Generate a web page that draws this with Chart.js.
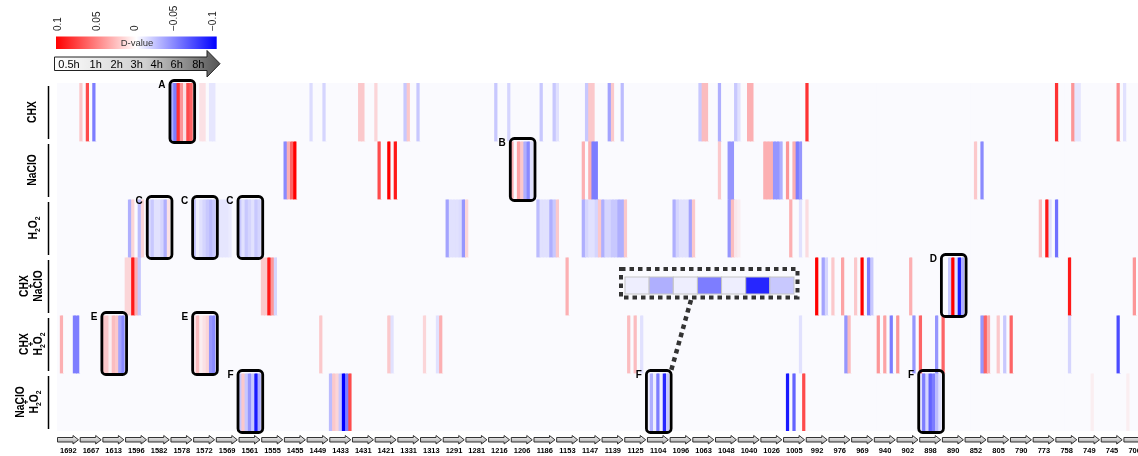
<!DOCTYPE html>
<html>
<head>
<meta charset="utf-8">
<script src="https://cdn.jsdelivr.net/npm/chart.js@4.4.1/dist/chart.umd.min.js"></script>
<style>
  html, body { margin: 0; padding: 0; background: #fff; overflow: hidden; }
  #wrap { position: relative; width: 1150px; height: 456px; }
</style>
</head>
<body>
<div id="wrap"><canvas id="heatChart"></canvas></div>
<script>
// bands (cm-1) on the x axis, 7 sampling times inside each band
const wavenumbers = ['1692', '1667', '1613', '1596', '1582', '1578', '1572', '1569', '1561', '1555',
  '1455', '1449', '1433', '1431', '1421', '1331', '1313', '1291', '1281', '1216', '1206', '1186',
  '1153', '1147', '1139', '1125', '1104', '1096', '1063', '1048', '1040', '1026', '1005', '992',
  '976', '969', '940', '902', '898', '890', '852', '805', '790', '773', '758', '749', '745', '706'];
const times = ['0.5h', '1h', '2h', '3h', '4h', '6h', '8h'];
const treatments = ['CHX', 'NaClO', 'H2O2', 'CHX+NaClO', 'CHX+H2O2', 'NaClO+H2O2'];
const legendTicks = [0.1, 0.05, 0, -0.05, -0.1];

// D-values: [band, values 0.5h..8h], bands not listed are 0
const chx = [
  ['1667', [0.02, 0, 0.07, 0, -0.05, 0, 0]],
  ['1578', [-0.03, -0.05, 0.08, 0.04, 0.01, 0.07, 0.06]],
  ['1572', [0, 0, 0.01, 0.01, 0, -0.008, -0.008]],
  ['1449', [0, -0.012, 0, 0, 0, -0.015, 0]],
  ['1431', [0, 0, 0.02, 0.02, 0, 0, 0]],
  ['1421', [0.015, 0, 0, 0, 0, 0, 0]],
  ['1331', [0, 0, -0.02, 0.02, 0, 0, -0.02]],
  ['1216', [0, 0, -0.02, 0, 0, 0, -0.015]],
  ['1186', [0, 0, -0.02, 0, 0, 0, -0.02]],
  ['1153', [-0.01, 0, 0, 0, 0, 0, 0]],
  ['1147', [0, 0, -0.02, 0.02, 0.02, 0, 0]],
  ['1139', [0, 0, -0.035, 0.02, 0, 0, -0.025]],
  ['1063', [0, 0, -0.02, 0.025, 0.025, 0, 0]],
  ['1048', [0, -0.03, 0, 0, 0, 0, -0.02]],
  ['1040', [-0.01, 0, 0, 0.03, 0.03, 0, 0]],
  ['992', [0.08, 0, 0, 0, 0, 0, 0]],
  ['758', [0.08, 0, 0, 0, 0, 0.04, -0.008]],
  ['749', [-0.008, 0, 0, 0, 0, 0, 0]],
  ['745', [0, 0, 0, 0, 0, 0.045, 0]],
  ['706', [-0.01, 0, 0, 0, 0, 0, 0]]
];
const naclo = [
  ['1455', [-0.045, 0.03, 0.06, 0.1, 0, 0, 0]],
  ['1421', [0, 0.07, 0, 0, 0.1, 0, 0.09]],
  ['1206', [0.03, 0, 0.035, 0.02, -0.03, -0.045, -0.01]],
  ['1147', [0, 0.03, 0, 0.03, -0.05, -0.05, 0]],
  ['1048', [0, 0.02, 0, 0, -0.04, -0.04, 0]],
  ['1026', [0, 0.03, 0.03, 0.03, -0.04, -0.04, -0.03]],
  ['1005', [0, 0.04, 0, 0.03, -0.05, -0.04, 0]],
  ['852', [0, 0, 0, 0.02, 0, -0.045, 0]]
];
const h2o2 = [
  ['1596', [0, -0.03, 0.015, 0, -0.025, 0.015, 0]],
  ['1582', [-0.012, -0.02, -0.01, -0.01, -0.015, -0.03, 0.01]],
  ['1572', [-0.02, -0.005, -0.01, -0.015, -0.02, -0.025, -0.02]],
  ['1569', [-0.008, -0.008, -0.008, -0.008, -0.006, 0, 0]],
  ['1561', [-0.02, -0.01, -0.02, -0.015, -0.01, -0.02, -0.015]],
  ['1291', [0, -0.035, -0.01, -0.01, -0.01, -0.012, -0.04]],
  ['1281', [0.015, 0, 0, 0, 0, 0, 0]],
  ['1186', [0, -0.025, -0.01, -0.01, -0.01, -0.03, -0.02]],
  ['1153', [0.02, 0, 0, 0, 0, 0, 0]],
  ['1147', [0, -0.03, -0.015, -0.01, -0.01, -0.015, 0.02]],
  ['1139', [-0.03, -0.015, -0.015, -0.02, -0.02, -0.03, -0.03]],
  ['1125', [0.02, 0, 0, 0, 0, 0, 0]],
  ['1096', [0, -0.03, -0.015, -0.01, -0.01, -0.01, -0.035]],
  ['1063', [0.02, 0, 0, 0, 0, 0, 0]],
  ['1048', [0, 0, 0, 0, -0.04, 0.025, 0.008]],
  ['1040', [0.005, 0, 0, 0, 0, 0, 0]],
  ['1005', [0, 0, 0.03, 0, 0, -0.01, 0]],
  ['992', [0.012, 0, 0, 0, 0, 0, 0]],
  ['773', [0, 0, 0.025, 0, 0.09, -0.01, 0]],
  ['758', [-0.055, 0, 0, 0, 0, 0, 0]]
];
const chxNaclo = [
  ['1596', [0.015, 0.015, 0.09, 0.03, -0.02, 0, 0]],
  ['1555', [0.02, 0.02, 0.09, 0.04, -0.015, 0, 0]],
  ['1153', [0, 0, 0, 0.03, 0, 0, 0]],
  ['992', [0, 0, 0, 0.1, 0, -0.035, -0.015]],
  ['976', [0, 0.02, 0, 0, 0.035, 0, 0]],
  ['969', [0, 0.02, 0, 0.1, 0, -0.05, -0.02]],
  ['902', [0, 0, 0, 0, 0.03, 0, 0]],
  ['890', [0, 0, -0.02, 0.1, -0.01, -0.09, -0.03]],
  ['758', [0, 0, 0, 0, 0.09, 0, 0]],
  ['706', [0, 0, 0, 0.04, 0, 0, 0]]
];
const chxH2o2 = [
  ['1692', [0, 0.03, 0, 0, 0, -0.05, -0.05]],
  ['1613', [0.02, 0.02, 0.005, 0.025, 0.02, -0.035, -0.045]],
  ['1572', [0.01, 0.025, 0.005, 0.01, 0.015, -0.04, -0.045]],
  ['1449', [0, 0, 0, 0, 0.02, 0, 0]],
  ['1421', [0, 0, 0, 0, 0.02, -0.01, 0]],
  ['1313', [0, 0.015, 0, 0, 0, -0.01, 0.03]],
  ['1125', [0, 0.025, 0, 0.025, 0, -0.01, 0]],
  ['1005', [0, 0, 0, 0, 0, -0.01, 0]],
  ['976', [0, 0, 0, 0, 0, -0.04, 0.025]],
  ['940', [0, 0.04, 0, 0.035, 0, -0.05, 0]],
  ['902', [0.04, 0, 0, 0, 0, -0.04, 0]],
  ['898', [0.06, 0, 0, 0, 0, -0.04, 0]],
  ['890', [0.06, 0, 0, 0, 0, 0, 0]],
  ['852', [0, 0, 0, 0, 0, -0.04, 0.06]],
  ['805', [0.03, 0, 0, 0.02, 0, -0.02, 0]],
  ['790', [0.06, 0, 0, 0, 0, 0, 0]],
  ['758', [0, 0, 0, 0, -0.015, 0, 0]],
  ['745', [0, 0, 0, 0, 0, -0.07, 0]]
];
const nacloH2o2 = [
  ['1561', [-0.02, 0.02, -0.02, -0.04, -0.02, -0.09, -0.03]],
  ['1433', [-0.025, 0.02, 0.015, -0.02, -0.1, -0.05, 0.07]],
  ['1104', [-0.005, -0.03, -0.005, -0.05, -0.005, -0.085, -0.02]],
  ['1005', [0, -0.09, 0, -0.06, 0, 0, 0.07]],
  ['898', [-0.01, -0.05, -0.015, -0.06, -0.05, -0.025, -0.01]],
  ['749', [0, 0, 0, 0, 0.005, 0, 0]],
  ['706', [0, 0.005, 0, 0, 0, 0, 0]]
];

// highlighted boxes: letter, treatment, band
const boxes = [
  ['A', 'CHX', '1578'], ['B', 'NaClO', '1206'],
  ['C', 'H2O2', '1582'], ['C', 'H2O2', '1572'], ['C', 'H2O2', '1561'],
  ['D', 'CHX+NaClO', '890'], ['E', 'CHX+H2O2', '1613'], ['E', 'CHX+H2O2', '1572'],
  ['F', 'NaClO+H2O2', '1561'], ['F', 'NaClO+H2O2', '1104'], ['F', 'NaClO+H2O2', '898']
];

const FONT = '"Liberation Sans", Arial, sans-serif';
const BASE = [250, 250, 254];

function dColor(v) {
  const t = Math.min(Math.abs(v) / 0.1, 1);
  const end = v > 0 ? [255, 0, 0] : [0, 0, 255];
  const c = BASE.map((b, i) => Math.round(b + (end[i] - b) * t));
  return 'rgb(' + c.join(',') + ')';
}

function expand(list) {
  const vals = new Array(wavenumbers.length * times.length).fill(0);
  list.forEach(([wn, cells]) => {
    const w = wavenumbers.indexOf(wn);
    cells.forEach((v, t) => { vals[w * times.length + t] = v; });
  });
  return vals;
}

const rowValues = [chx, naclo, h2o2, chxNaclo, chxH2o2, nacloH2o2].map(expand);
const cellLabels = wavenumbers.flatMap(w => times.map(t => w + ' ' + t));

// rotated row labels: [parts, baseline x]
const rowLabelLines = [
  [[['CHX'], 36]],
  [[['NaClO'], 36]],
  [[['H', '2', 'O', '2'], 36.5]],
  [[['CHX'], 28.3], [['+'], 34], [['NaClO'], 41.5]],
  [[['CHX'], 28.3], [['+'], 34], [['H', '2', 'O', '2'], 41.8]],
  [[['NaClO'], 23.8], [['+'], 29.3], [['H', '2', 'O', '2'], 38]]
];

function drawLabelLine(ctx, parts, baseX, cy) {
  ctx.save();
  ctx.translate(baseX, cy);
  ctx.rotate(-Math.PI / 2);
  ctx.scale(0.86, 1);
  ctx.fillStyle = '#000';
  ctx.textAlign = 'left';
  ctx.textBaseline = 'alphabetic';
  const fonts = parts.map(p => /^\d$/.test(p) ? 'bold 8px ' + FONT : (p === '+' ? 'bold 9px ' + FONT : 'bold 12px ' + FONT));
  const widths = parts.map((p, i) => { ctx.font = fonts[i]; return ctx.measureText(p).width; });
  let u = -widths.reduce((a, b) => a + b, 0) / 2;
  parts.forEach((p, i) => {
    ctx.font = fonts[i];
    ctx.fillText(p, u, /^\d$/.test(p) ? 3 : 0);
    u += widths[i];
  });
  ctx.restore();
}

const decor = {
  id: 'decor',
  beforeDatasetsDraw(chart) {
    const { ctx, chartArea: a } = chart;
    ctx.save();
    ctx.fillStyle = 'rgb(' + BASE.join(',') + ')';
    ctx.fillRect(a.left, a.top, a.right - a.left, a.bottom - a.top);
    ctx.restore();
  },
  afterDraw(chart) {
    const { ctx } = chart;
    const x = chart.scales.x, y = chart.scales.y;
    const cellW = x.getPixelForValue(1) - x.getPixelForValue(0);
    const colLeft = w => x.getPixelForValue(w * times.length) - cellW / 2;
    const colRight = w => colLeft(w) + cellW * times.length;
    const rowTop = r => y.getPixelForValue(r);
    const rowBot = r => y.getPixelForValue(r + 1);

    ctx.save();

    // boxes + letters
    boxes.forEach(([letter, tr, wn]) => {
      const w = wavenumbers.indexOf(wn), r = treatments.indexOf(tr);
      const l = colLeft(w), rr = colRight(w), t = rowTop(r), b = rowBot(r);
      ctx.lineWidth = 2.8;
      ctx.strokeStyle = '#000';
      ctx.beginPath();
      ctx.roundRect(l - 0.5, t - 2.5, rr - l + 2, b - t + 4, 4);
      ctx.stroke();
      ctx.fillStyle = '#000';
      ctx.font = 'bold 10px ' + FONT;
      ctx.textAlign = 'right';
      ctx.textBaseline = 'alphabetic';
      ctx.fillText(letter, l - 5, t + 4.7);
    });

    // zoomed inset of F at 1104
    const i1104 = wavenumbers.indexOf('1104') * times.length;
    const insetVals = rowValues[5].slice(i1104, i1104 + times.length);
    const ix = 625, iy = 277, iw = 169 / 7, ih = 17;
    insetVals.forEach((v, i) => {
      ctx.fillStyle = dColor(v);
      ctx.fillRect(ix + i * iw, iy, iw, ih);
      ctx.strokeStyle = '#c4c4c4';
      ctx.lineWidth = 1;
      ctx.strokeRect(ix + i * iw, iy, iw, ih);
    });
    ctx.setLineDash([4.5, 4]);
    ctx.strokeStyle = '#333';
    ctx.lineWidth = 4;
    ctx.strokeRect(621, 269, 176.5, 28.5);
    ctx.lineWidth = 4.5;
    ctx.beginPath();
    ctx.moveTo(691, 300);
    ctx.lineTo(671, 371);
    ctx.stroke();
    ctx.setLineDash([]);

    // row labels and separators
    treatments.forEach((tr, r) => {
      const t = rowTop(r), b = rowBot(r), cy = (t + b) / 2;
      ctx.strokeStyle = '#000';
      ctx.lineWidth = 1.5;
      ctx.beginPath();
      ctx.moveTo(48.5, t + 3);
      ctx.lineTo(48.5, b - 2);
      ctx.stroke();
      rowLabelLines[r].forEach(([parts, bx]) => drawLabelLine(ctx, parts, bx, cy));
    });

    // x axis arrows and band labels
    wavenumbers.forEach((wn, w) => {
      const x0 = colLeft(w);
      const g = ctx.createLinearGradient(0, 435.5, 0, 444);
      g.addColorStop(0, '#ffffff');
      g.addColorStop(1, '#9a9a9a');
      ctx.beginPath();
      ctx.moveTo(x0 + 0.5, 437.5);
      ctx.lineTo(x0 + 16, 437.5);
      ctx.lineTo(x0 + 16, 435.5);
      ctx.lineTo(x0 + 21.5, 439.8);
      ctx.lineTo(x0 + 16, 444);
      ctx.lineTo(x0 + 16, 442);
      ctx.lineTo(x0 + 0.5, 442);
      ctx.closePath();
      ctx.fillStyle = g;
      ctx.fill();
      ctx.strokeStyle = '#333';
      ctx.lineWidth = 1;
      ctx.stroke();
      ctx.fillStyle = '#000';
      ctx.font = 'bold 7.5px ' + FONT;
      ctx.textAlign = 'center';
      ctx.textBaseline = 'alphabetic';
      ctx.fillText(wn, x0 + 11.3, 452.5);
    });

    // colour bar legend
    const cb = ctx.createLinearGradient(56, 0, 216.7, 0);
    cb.addColorStop(0, '#ff0000');
    cb.addColorStop(0.5, '#ffffff');
    cb.addColorStop(1, '#0000ff');
    ctx.fillStyle = cb;
    ctx.fillRect(56, 36.5, 160.7, 12.5);
    ctx.fillStyle = '#333';
    ctx.font = '9.5px ' + FONT;
    ctx.textAlign = 'center';
    ctx.textBaseline = 'middle';
    ctx.fillText('D-value', 137, 43);
    ctx.fillStyle = '#222';
    ctx.font = '10px ' + FONT;
    legendTicks.forEach(v => {
      const tx = 58 + (0.1 - v) / 0.2 * 155;
      ctx.save();
      ctx.translate(tx, 31);
      ctx.rotate(-Math.PI / 2);
      ctx.textAlign = 'left';
      ctx.textBaseline = 'middle';
      ctx.fillText(v === 0 ? '0' : (v < 0 ? '\u2212' + Math.abs(v) : String(v)), 0, 0);
      ctx.restore();
    });

    // time arrow
    const ta = ctx.createLinearGradient(54.5, 0, 220, 0);
    ta.addColorStop(0, '#ffffff');
    ta.addColorStop(0.55, '#cfcfcf');
    ta.addColorStop(1, '#555555');
    ctx.beginPath();
    ctx.moveTo(54.5, 57);
    ctx.lineTo(207, 57);
    ctx.lineTo(207, 50.5);
    ctx.lineTo(220, 63.7);
    ctx.lineTo(207, 77);
    ctx.lineTo(207, 70.5);
    ctx.lineTo(54.5, 70.5);
    ctx.closePath();
    ctx.fillStyle = ta;
    ctx.fill();
    ctx.strokeStyle = '#222';
    ctx.lineWidth = 1;
    ctx.stroke();
    const timeX = [69, 95.7, 116.7, 136.7, 156.7, 176.7, 198.3];
    ctx.fillStyle = '#000';
    ctx.font = '11px ' + FONT;
    ctx.textAlign = 'center';
    ctx.textBaseline = 'alphabetic';
    times.forEach((t, i) => ctx.fillText(t, timeX[i], 67.8));

    ctx.restore();
  }
};

const heatChart = new Chart(document.getElementById('heatChart'), {
  type: 'bar',
  data: {
    labels: cellLabels,
    datasets: rowValues.map((vals, r) => ({
      label: treatments[r],
      data: vals.map(() => 1),
      backgroundColor: vals.map(dColor),
      borderWidth: 0,
      barPercentage: 1,
      categoryPercentage: 1,
      inflateAmount: 0.4
    }))
  },
  options: {
    responsive: true,
    maintainAspectRatio: false,
    animation: false,
    layout: { padding: { left: 57, right: 3.9, top: 83, bottom: 25 } },
    plugins: { legend: { display: false }, tooltip: { enabled: false } },
    scales: {
      x: { display: false, stacked: true },
      y: { display: false, stacked: true, reverse: true, min: 0, max: 6 }
    }
  },
  plugins: [decor]
});
</script>
</body>
</html>
